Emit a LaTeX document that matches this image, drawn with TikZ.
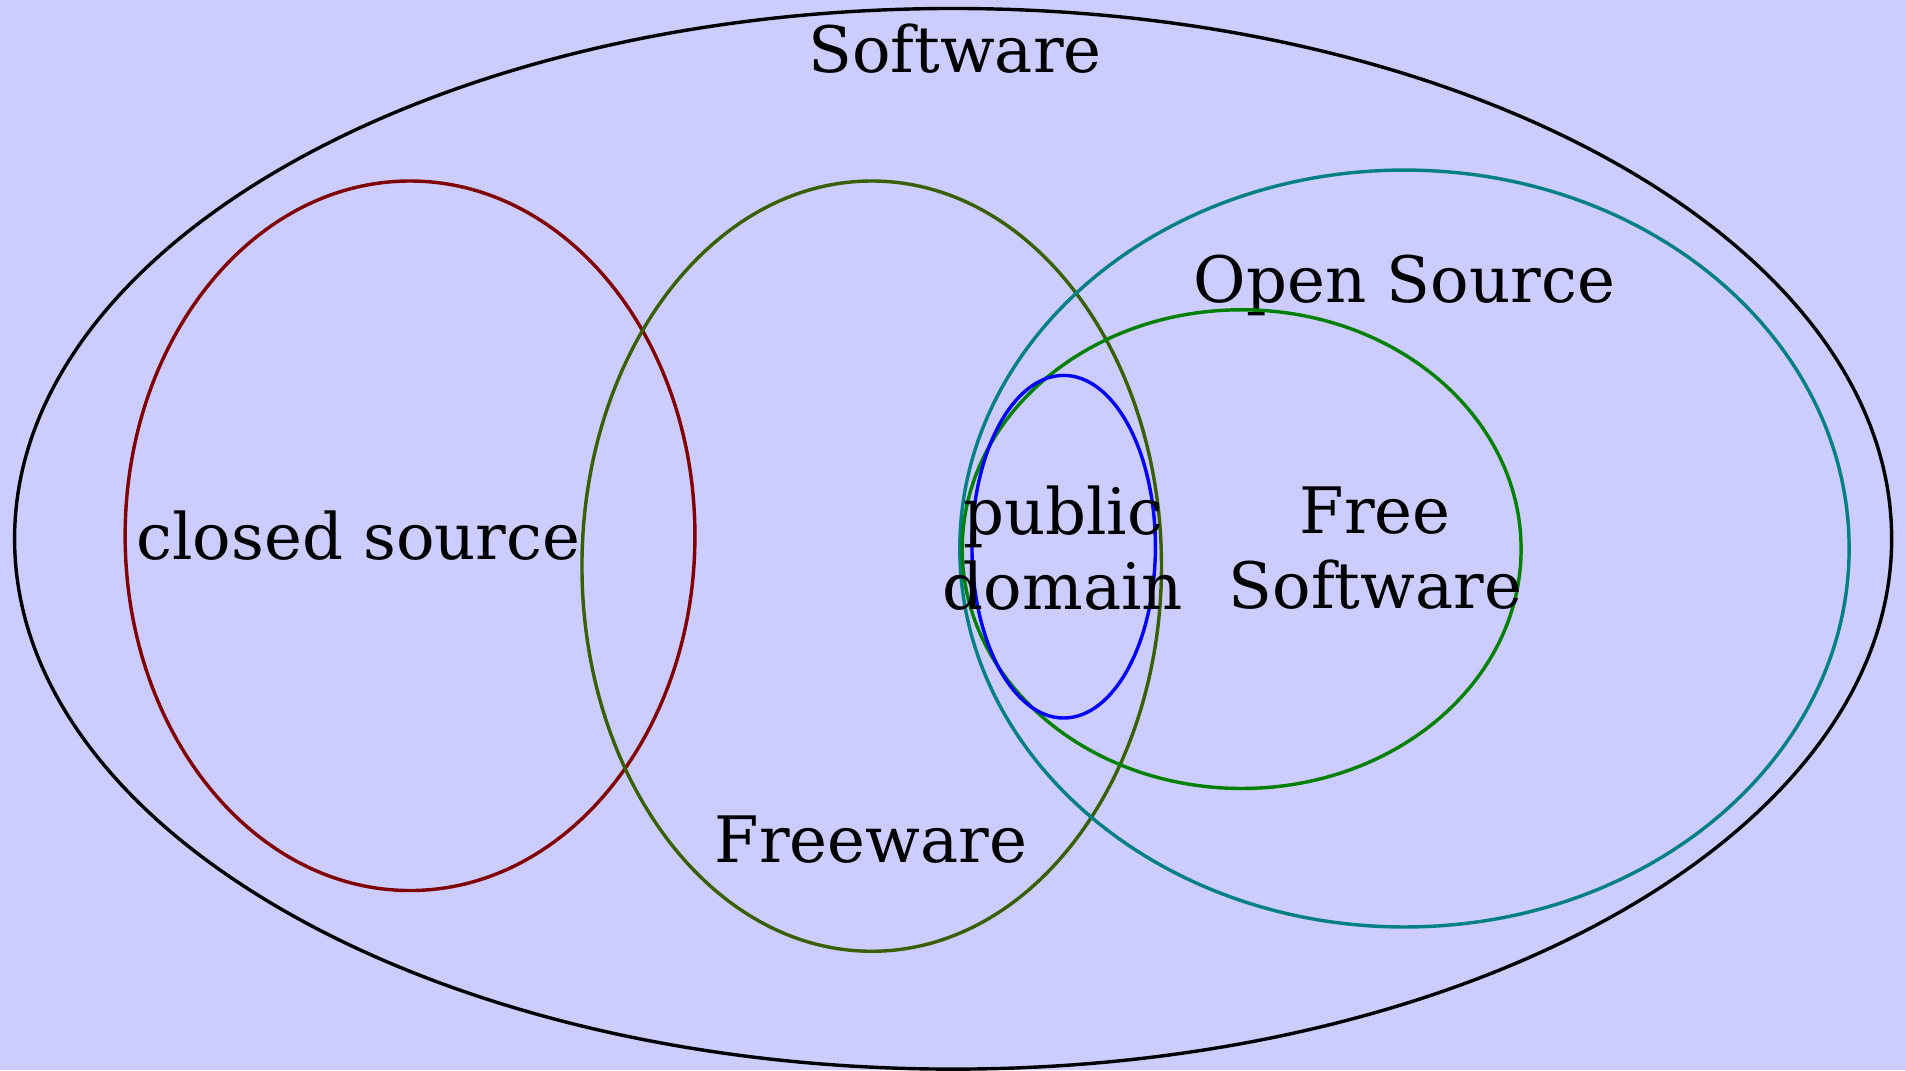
\documentclass[tikz,border=0pt]{standalone}
\usepackage{fontspec}
\setmainfont{DejaVu Serif}
\definecolor{bgblue}{HTML}{CCCCFF}
\definecolor{closedred}{HTML}{800000}
\definecolor{freeolive}{HTML}{3A5F00}
\definecolor{openteal}{HTML}{008080}
\definecolor{fsfgreen}{HTML}{008000}
\tikzset{
    setline/.style={line width=0.8pt},
    setlabel/.style={align=center, inner sep=0pt, font=\fontsize{15}{17.6}\selectfont}
}
\begin{document}
\begin{tikzpicture}
    % background
    \fill[bgblue] (0,0) rectangle (15.68,8.81);
    \useasboundingbox (0,0) rectangle (15.68,8.81);

    % Software
    \draw[setline, black] (7.845,4.375) ellipse (7.725 and 4.365);
    \node[setlabel] (software) at (7.86,8.41) {Software};

    % closed source
    \draw[setline, closedred] (3.375,4.40) ellipse (2.345 and 2.92);
    \node[setlabel] (closed) at (2.95,4.40) {closed source};

    % Freeware
    \draw[setline, freeolive] (7.175,4.15) ellipse (2.385 and 3.17);
    \node[setlabel] (freeware) at (7.17,1.90) {Freeware};

    % Open Source
    \draw[setline, openteal] (11.56,4.295) ellipse (3.66 and 3.115);
    \node[setlabel] (opensrc) at (11.56,6.46) {Open Source};

    % Free Software
    \draw[setline, fsfgreen] (10.22,4.29) ellipse (2.30 and 1.97);
    \node[setlabel] (freesw) at (11.32,4.30) {Free\\Software};

    % public domain
    \draw[setline, blue] (8.755,4.31) ellipse (0.755 and 1.41);
    \node[setlabel] (pubdom) at (8.75,4.30) {public\\domain};
\end{tikzpicture}
\end{document}
